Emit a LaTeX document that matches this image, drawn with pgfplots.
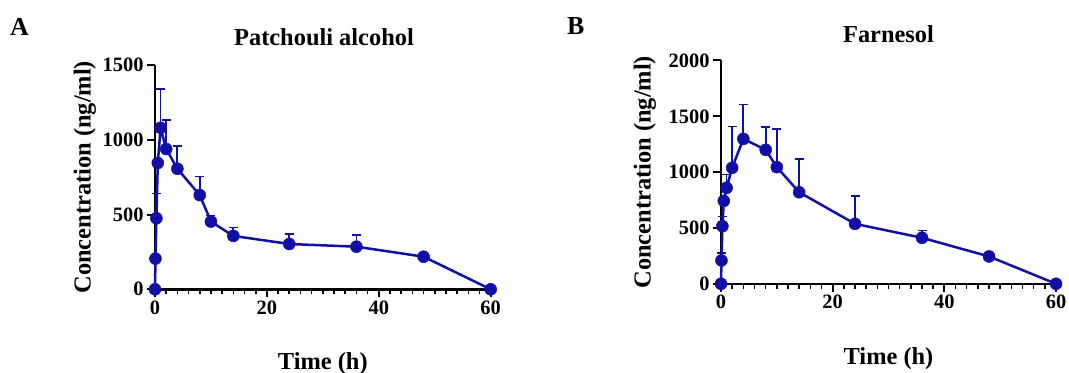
\documentclass[border=0pt]{standalone}
\usepackage{fontspec}
\setmainfont{Liberation Serif}
\usepackage{pgfplots}
\usepackage{pgfplotstable}
\pgfplotsset{compat=1.18}
\definecolor{pk}{RGB}{16,16,168}

\pgfplotstableread{
x y ey
0 0 0
0.083 205 0
0.25 475 165
0.5 845 0
1 1080 260
2 938 196
4 806 154
8 630 124
10 453 40
14 357 56
24 303 67
36 285 79
48 218 0
60 0 0
}\dataA

\pgfplotstableread{
x y ey
0 0 0
0.083 209 70
0.25 516 87
0.5 743 0
1 860 119
2 1039 370
4 1298 308
8 1200 203
10 1045 340
14 820 299
24 537 248
36 412 65
48 245 0
60 0 0
}\dataB

\pgfplotsset{
  pkstyle/.style={
    scale only axis,
    axis lines=left,
    axis line style={-, line width=2.5bp, black},
    xmin=0, xmax=60, ymin=0,
    xtick={0,20,40,60},
    minor x tick num=9,
    tick align=outside,
    major tick length=8bp,
    minor tick length=5bp,
    every tick/.style={line width=2bp, black},
    minor tick style={line width=1.6bp, black},
    /pgf/number format/assume math mode=true,
    /pgf/number format/1000 sep={},
    tick label style={font=\fontsize{20.5}{24}\selectfont\bfseries, black},
    label style={font=\fontsize{24.5}{28}\selectfont\bfseries, inner sep=0pt},
    title style={font=\fontsize{24.5}{28}\selectfont\bfseries, inner sep=0pt, anchor=base},
    xlabel={Time (h)},
    ylabel={Concentration (ng/ml)},
    clip=false,
  },
  pkplot/.style={
    pk, line width=2.5bp, mark=*, mark size=6bp,
    mark options={solid, fill=pk, draw=pk, line width=0.5bp},
    error bars/.cd, y dir=plus, y explicit,
    error bar style={line width=1.8bp, pk},
    error mark options={rotate=90, mark size=4.5bp, line width=1.8bp, pk},
  },
}

\begin{document}
\begin{tikzpicture}
\begin{axis}[pkstyle,
  at={(155bp,83.7bp)}, anchor=origin,
  width=335.7bp, height=224.3bp,
  ymax=1500, ytick={0,500,1000,1500},
  title={Patchouli alcohol},
  title style={at={(axis description cs:0.5034,1.060)}},
  xlabel style={at={(axis description cs:0.5,-0.357)}, anchor=base},
  ylabel style={at={(axis description cs:-0.209,0.5)}, anchor=center, rotate=0},
]
\addplot+[pkplot] table[x=x, y=y, y error=ey] {\dataA};
\end{axis}

\begin{axis}[pkstyle,
  at={(721bp,89.2bp)}, anchor=origin,
  width=335bp, height=223.3bp,
  ymax=2000, ytick={0,500,1000,1500,2000},
  title={Farnesol},
  title style={at={(axis description cs:0.5,1.052)}},
  xlabel style={at={(axis description cs:0.5,-0.36)}, anchor=base},
  ylabel style={at={(axis description cs:-0.227,0.5)}, anchor=center, rotate=0},
]
\addplot+[pkplot] table[x=x, y=y, y error=ey] {\dataB};
\end{axis}

\node[anchor=base west, inner sep=0pt, font=\fontsize{26}{30}\selectfont\bfseries] at (10bp,337bp) {A};
\node[anchor=base west, inner sep=0pt, font=\fontsize{26}{30}\selectfont\bfseries] at (567bp,338bp) {B};

\pgfresetboundingbox
\useasboundingbox (0,0) rectangle (1069bp,373bp);
\end{tikzpicture}
\end{document}
